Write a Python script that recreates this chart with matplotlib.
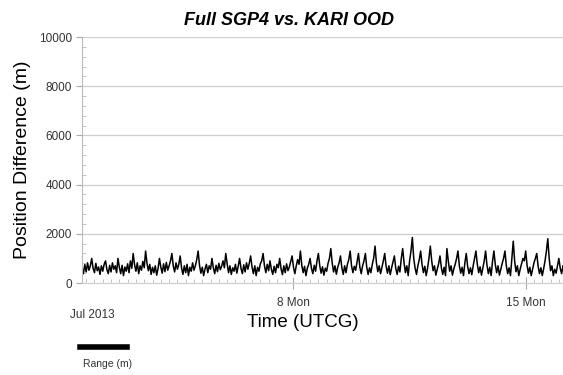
import matplotlib

matplotlib.use("Agg")
import matplotlib.dates as mdates
import matplotlib.pyplot as plt
import pandas as pd
from matplotlib.ticker import MultipleLocator

plt.rcParams["font.family"] = ["Liberation Sans", "DejaVu Sans"]

# hourly samples, starting 2013-07-01 15:00 UTCG
start_time = "2013-07-01 15:00"
position_diff_m = [
    620, 380, 750, 450, 820, 520, 700, 1000, 600, 420, 800, 500, 650, 350, 700, 480, 760, 900, 550, 380, 720, 450, 820, 560,
    700, 420, 1000, 640, 380, 720, 300, 650, 480, 780, 420, 900, 600, 1200, 750, 480, 820, 380, 700, 520, 880, 620, 1300, 800,
    500, 760, 350, 640, 420, 700, 320, 580, 1000, 650, 400, 780, 460, 840, 520, 700, 900, 1200, 700, 450, 820, 560, 760, 1100,
    620, 350, 700, 420, 760, 300, 640, 480, 820, 520, 700, 950, 1300, 720, 400, 640, 300, 580, 760, 420, 700, 560, 1000, 620,
    380, 720, 460, 800, 540, 680, 900, 620, 1200, 780, 420, 700, 350, 620, 480, 760, 400, 680, 1000, 600, 380, 740, 450, 820,
    560, 800, 1100, 650, 380, 700, 300, 640, 480, 780, 900, 1200, 700, 420, 760, 500, 900, 560, 350, 680, 420, 760, 620, 1000,
    580, 340, 700, 420, 780, 500, 650, 880, 1100, 640, 380, 700, 950, 760, 1300, 720, 420, 680, 300, 600, 760, 1000, 600, 380,
    720, 480, 900, 1200, 700, 400, 660, 320, 600, 480, 800, 1000, 1400, 820, 450, 700, 360, 640, 820, 1100, 620, 350, 700, 420,
    760, 950, 1300, 700, 420, 680, 520, 860, 1200, 650, 380, 700, 900, 1200, 640, 350, 620, 420, 760, 1000, 1500, 820, 460, 700,
    380, 640, 900, 1200, 680, 400, 700, 340, 620, 860, 1100, 600, 350, 680, 450, 1000, 1400, 820, 420, 700, 300, 900, 1300, 1850,
    1000, 600, 350, 700, 950, 1300, 760, 420, 680, 300, 600, 1000, 1500, 900, 500, 700, 320, 560, 780, 1100, 620, 350, 640, 300,
    1400, 900, 480, 700, 320, 580, 760, 1000, 1300, 700, 400, 640, 300, 820, 1200, 680, 380, 620, 340, 700, 1000, 1300, 760, 420,
    660, 320, 600, 900, 1300, 720, 380, 640, 300, 880, 1300, 760, 420, 700, 320, 560, 800, 1000, 1300, 700, 380, 620, 300, 1000,
    1700, 900, 460, 700, 300, 560, 780, 1000, 900, 1300, 720, 400, 640, 300, 560, 820, 1000, 1200, 680, 380, 620, 300, 580, 900,
    1300, 1800, 1000, 500, 700, 300, 560, 400, 700, 1000, 600, 380, 700,
]
major_days = ["2013-07-08", "2013-07-15"]
major_labels = ["8 Mon", "15 Mon"]

times = pd.date_range(start_time, periods=len(position_diff_m), freq="h")

fig = plt.figure(figsize=(5.63, 3.75), dpi=100)
ax = fig.add_axes([0.1457, 0.2453, 0.8543, 0.656])

ax.plot(times, position_diff_m, color="black", linewidth=1.1)

ax.set_xlim(times[0], times[-1])
ax.set_ylim(0, 10000)

ax.yaxis.set_major_locator(MultipleLocator(2000))
ax.yaxis.set_minor_locator(MultipleLocator(400))
ax.grid(axis="y", which="major", color="#cfcfcf", linewidth=0.9)
ax.set_axisbelow(True)

ax.set_xticks(pd.to_datetime(major_days))
ax.set_xticklabels(major_labels)
ax.xaxis.set_minor_locator(mdates.HourLocator(byhour=[0, 6, 12, 18]))

ax.tick_params(axis="y", which="major", direction="out", length=4, color="#aaaaaa",
               labelsize=8.5, labelcolor="#333333", pad=3)
ax.tick_params(axis="y", which="minor", direction="in", length=3, color="#bbbbbb")
ax.tick_params(axis="x", which="major", direction="inout", length=8, color="#aaaaaa",
               labelsize=8.5, labelcolor="#333333", pad=6)
ax.tick_params(axis="x", which="minor", direction="in", length=3, color="#bbbbbb")

for side in ["top", "right"]:
    ax.spines[side].set_visible(False)
ax.spines["left"].set_color("#bbbbbb")
ax.spines["bottom"].set_color("#cfcfcf")

ax.set_ylabel("Position Difference (m)", fontsize=14, labelpad=6)
ax.set_xlabel("Time (UTCG)", fontsize=13.5)
ax.xaxis.set_label_coords(0.46, -0.125)
ax.set_title("Full SGP4 vs. KARI OOD", fontsize=13, fontweight="bold", fontstyle="italic",
             pad=9, x=0.43)

fig.text(0.125, 0.152, "Jul 2013", fontsize=8.5, color="#333333")

# legend swatch below the axes
fig.add_artist(plt.Line2D([0.142, 0.226], [0.075, 0.075], color="black", linewidth=4,
                          transform=fig.transFigure))
fig.text(0.148, 0.022, "Range (m)", fontsize=7.5, color="#333333")

fig.savefig("out.png", dpi=100)
